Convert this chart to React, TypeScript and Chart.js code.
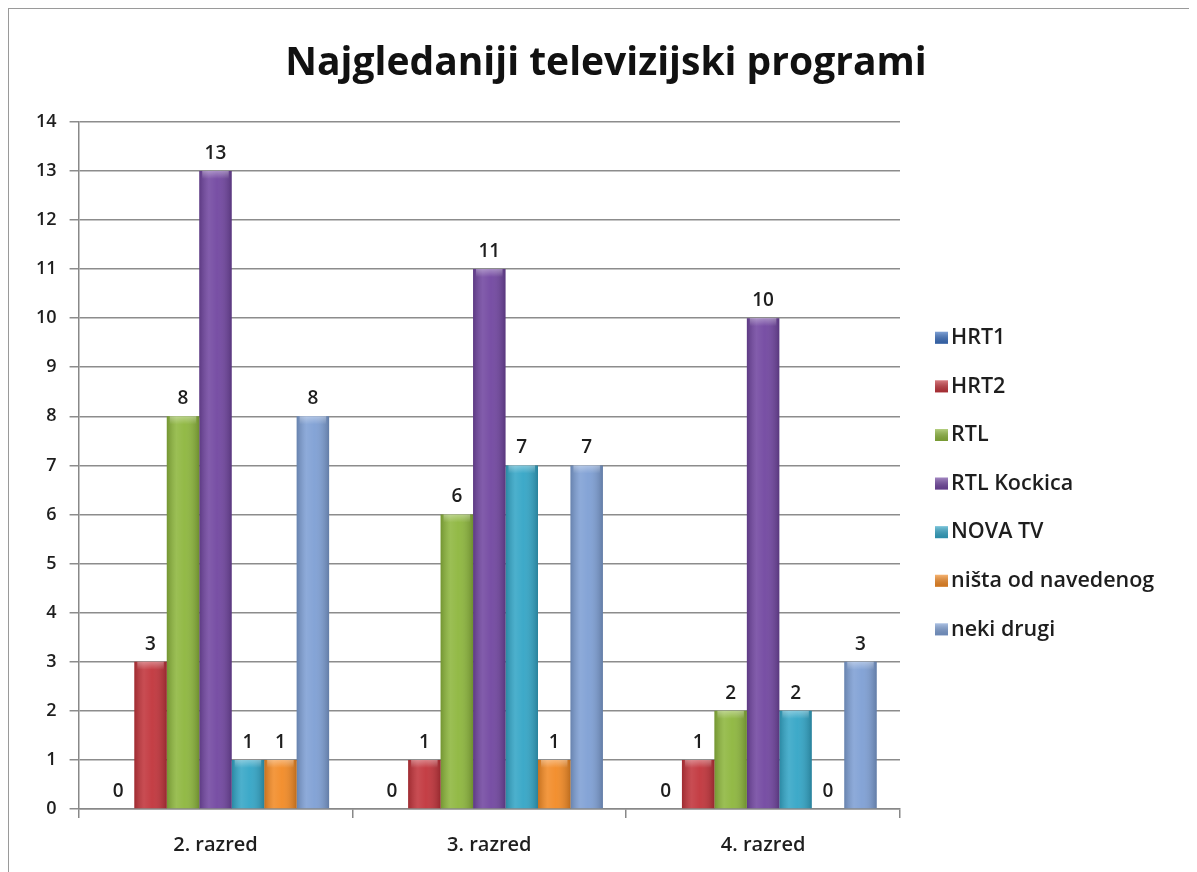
import React, { useEffect, useRef } from "react";
import { Chart, registerables } from "chart.js";

Chart.register(...registerables);

const TITLE = "Najgledaniji televizijski programi";
const categories = ["2. razred", "3. razred", "4. razred"];
const seriesNames = ["HRT1", "HRT2", "RTL", "RTL Kockica", "NOVA TV", "ništa od navedenog", "neki drugi"];
const hrt1 = [0, 0, 0];
const hrt2 = [3, 1, 1];
const rtl = [8, 6, 2];
const rtlKockica = [13, 11, 10];
const novaTv = [1, 7, 2];
const nista = [1, 1, 0];
const nekiDrugi = [8, 7, 3];
const seriesValues = [hrt1, hrt2, rtl, rtlKockica, novaTv, nista, nekiDrugi];
const seriesColors = ["#3B6FBE", "#C1343B", "#8DB63D", "#7146A0", "#33A5C6", "#F28A25", "#7E9FD4"];
const yMin = 0;
const yMax = 14;
const yStep = 1;

const FONT = "'Open Sans', 'DejaVu Sans', sans-serif";
const TEXT = "#1e1e1e";

const barShading = {
  id: "barShading",
  afterDatasetsDraw(chart: any) {
    const ctx = chart.ctx;
    chart.data.datasets.forEach((ds: any, di: number) => {
      const meta = chart.getDatasetMeta(di);
      meta.data.forEach((bar: any) => {
        const left = bar.x - bar.width / 2;
        const right = bar.x + bar.width / 2;
        const top = Math.min(bar.y, bar.base);
        const h = Math.abs(bar.base - bar.y);
        if (h < 0.5) return;
        const g = ctx.createLinearGradient(left, 0, right, 0);
        g.addColorStop(0, "rgba(0,0,0,0.18)");
        g.addColorStop(0.3, "rgba(255,255,255,0.12)");
        g.addColorStop(0.55, "rgba(255,255,255,0.05)");
        g.addColorStop(1, "rgba(0,0,0,0.22)");
        ctx.save();
        ctx.fillStyle = g;
        ctx.fillRect(left, top, bar.width, h);
        const cap = Math.min(8, h);
        const g2 = ctx.createLinearGradient(0, top, 0, top + cap);
        g2.addColorStop(0, "rgba(255,255,255,0.35)");
        g2.addColorStop(1, "rgba(255,255,255,0)");
        ctx.fillStyle = g2;
        ctx.fillRect(left + 3, top, bar.width - 6, cap);
        ctx.restore();
      });
    });
  },
};

const valueLabels = {
  id: "valueLabels",
  afterDatasetsDraw(chart: any) {
    const ctx = chart.ctx;
    ctx.save();
    ctx.font = `600 19px ${FONT}`;
    ctx.fillStyle = TEXT;
    ctx.textAlign = "center";
    ctx.textBaseline = "bottom";
    chart.data.datasets.forEach((ds: any, di: number) => {
      const meta = chart.getDatasetMeta(di);
      meta.data.forEach((bar: any, i: number) => {
        ctx.fillText(String(ds.data[i]), bar.x, bar.y - 8);
      });
    });
    ctx.restore();
  },
};

const sideLegend = {
  id: "sideLegend",
  afterDraw(chart: any) {
    const ctx = chart.ctx;
    const area = chart.chartArea;
    const x0 = area.right + 35;
    const y0 = area.top + 216;
    const gap = 48.6;
    ctx.save();
    ctx.font = `600 21.5px ${FONT}`;
    ctx.textBaseline = "middle";
    ctx.textAlign = "left";
    chart.data.datasets.forEach((ds: any, i: number) => {
      const y = y0 + i * gap;
      const col = seriesColors[i];
      ctx.fillStyle = col;
      ctx.fillRect(x0, y - 6, 13, 12);
      const g = ctx.createLinearGradient(0, y - 6, 0, y + 6);
      g.addColorStop(0, "rgba(255,255,255,0.35)");
      g.addColorStop(1, "rgba(0,0,0,0.15)");
      ctx.fillStyle = g;
      ctx.fillRect(x0, y - 6, 13, 12);
      ctx.fillStyle = TEXT;
      ctx.fillText(ds.label, x0 + 16, y);
    });
    ctx.restore();
  },
};

export default function App() {
  const ref = useRef<HTMLCanvasElement>(null);
  useEffect(() => {
    if (!ref.current) return;
    const chart = new Chart(ref.current, {
      type: "bar",
      data: {
        labels: categories,
        datasets: seriesNames.map((name, i) => ({
          label: name,
          data: seriesValues[i],
          backgroundColor: seriesColors[i],
          borderWidth: 0,
          barPercentage: 1,
          categoryPercentage: 0.83,
          yAxisID: "y",
        })),
      },
      plugins: [barShading, valueLabels, sideLegend],
      options: {
        animation: false,
        responsive: false,
        maintainAspectRatio: false,
        layout: { padding: { left: 14, right: 0, top: 0, bottom: 17 } },
        plugins: {
          legend: { display: false },
          tooltip: { enabled: false },
          title: {
            display: true,
            text: TITLE,
            color: "#111",
            font: { family: FONT, size: 39, weight: "bold" },
            padding: { top: 31, bottom: 35 },
          },
        },
        scales: {
          x: {
            grid: {
              display: true,
              drawOnChartArea: false,
              drawTicks: true,
              tickLength: 9,
              color: "#888",
              lineWidth: 1.5,
              offset: true,
            },
            border: { display: true, color: "#888", width: 1.5 },
            ticks: { color: TEXT, font: { family: FONT, size: 20, weight: "600" }, padding: 15 },
          },
          y: {
            min: yMin,
            max: yMax,
            ticks: { stepSize: yStep, color: TEXT, font: { family: FONT, size: 18, weight: "600" }, padding: 13 },
            grid: { color: "#8c8c8c", lineWidth: 1.5, tickLength: 9, drawTicks: true },
            border: { display: true, color: "#888", width: 1.5 },
          },
          legendSpace: {
            type: "linear",
            position: "right",
            display: true,
            ticks: { display: false },
            grid: { display: false, drawTicks: false },
            border: { display: false },
            afterFit: (scale: any) => {
              scale.width = 289;
            },
          },
        },
      },
    });
    return () => chart.destroy();
  }, []);
  return (
    <div
      style={{
        width: 1180,
        height: 880,
        border: "1px solid #9a9a9a",
        overflow: "hidden",
        background: "#fff",
      }}
    >
      <canvas ref={ref} width={1180} height={880} style={{ display: "block" }} />
    </div>
  );
}
